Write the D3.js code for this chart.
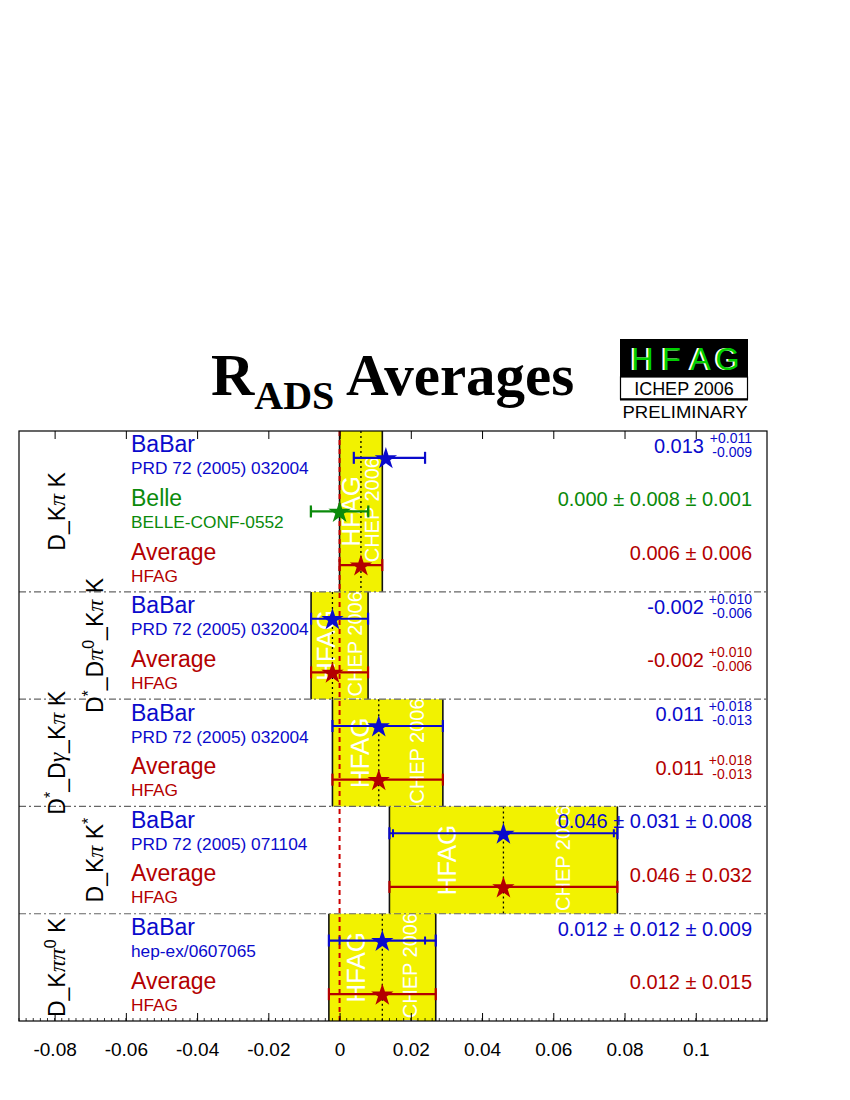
<!DOCTYPE html>
<html><head><meta charset="utf-8">
<script src="https://cdn.jsdelivr.net/npm/d3@7"></script>
<style>body{margin:0;background:#fff} svg{display:block}</style>
</head><body>
<svg id="c" width="850" height="1100"></svg>
<script>
// ---------------- data ----------------
const groupLabels = [
  [["D_K",""],["π","g"],[" K",""]],
  [["D",""],["*","sup"],["_D",""],["π","g"],["0","sup"],["_K",""],["π","g"],[" K",""]],
  [["D",""],["*","sup"],["_D",""],["γ","g"],["_K",""],["π","g"],[" K",""]],
  [["D_K",""],["π","g"],[" K",""],["*","sup"]],
  [["D_K",""],["π","g"],["π","g"],["0","sup"],[" K",""]]
];
const entryGroup  = [0,0,0,1,1,2,2,3,3,4,4];
const experiments = ["BaBar","Belle","Average","BaBar","Average","BaBar","Average","BaBar","Average","BaBar","Average"];
const references  = ["PRD 72 (2005) 032004","BELLE-CONF-0552","HFAG","PRD 72 (2005) 032004","HFAG",
                     "PRD 72 (2005) 032004","HFAG","PRD 72 (2005) 071104","HFAG","hep-ex/0607065","HFAG"];
const values  = [0.013, 0.000, 0.006, -0.002, -0.002, 0.011, 0.011, 0.046, 0.046, 0.012, 0.012];
const errHi   = [0.011, 0.008, 0.006, 0.010, 0.010, 0.018, 0.018, 0.031, 0.032, 0.012, 0.015];
const errLo   = [0.009, 0.008, 0.006, 0.006, 0.006, 0.013, 0.013, 0.031, 0.032, 0.012, 0.015];
const errSyst = [0, 0.001, 0, 0, 0, 0, 0, 0.008, 0, 0.009, 0];
const xTicks      = [-0.08,-0.06,-0.04,-0.02,0,0.02,0.04,0.06,0.08,0.1];
const xTickLabels = ["-0.08","-0.06","-0.04","-0.02","0","0.02","0.04","0.06","0.08","0.1"];
const xDomain = [-0.09, 0.12];

// ---------------- setup ----------------
const svg = d3.select("#c");
const F = "Liberation Sans, Arial, Helvetica, sans-serif";
const colors = {BaBar:"#0a0acc", Belle:"#0a8a0a", Average:"#b30000"};
const L = 19, R = 767, T = 431, B = 1021;
const x = d3.scaleLinear().domain(xDomain).range([L, R]);
const y = d3.scaleBand().domain(d3.range(values.length)).range([T, B]).padding(0);
const rowH = y.bandwidth();
const nG = groupLabels.length;
const gRows = d3.range(nG).map(g => entryGroup.map((e,i)=>e===g?i:-1).filter(i=>i>=0));
const gTop = gRows.map(r => y(r[0]));
const gBot = gRows.map(r => y(r[r.length-1]) + rowH);
const fmt = v => d3.format(".3f")(v).replace("−","-");

// ---------------- title & logo ----------------
const title = svg.append("text").attr("font-family","Liberation Serif, Times New Roman, serif")
  .attr("font-weight","bold").attr("fill","#000");
title.append("tspan").attr("x",211).attr("y",395).attr("font-size",60).text("R");
title.append("tspan").attr("dy",14).attr("font-size",40).text("ADS");
title.append("tspan").attr("x",346).attr("y",395).attr("font-size",59).text("Averages");

const logo = svg.append("g");
logo.append("rect").attr("x",620).attr("y",339).attr("width",128).attr("height",38).attr("fill","#000");
const hl = ["H","F","A","G"], hx = [642,671,700,727];
hl.forEach((c,i)=>{
  logo.append("text").attr("x",hx[i]-1.5).attr("y",370).attr("text-anchor","middle")
    .attr("font-family",F).attr("font-size",31).attr("fill","#fff").text(c);
  logo.append("text").attr("x",hx[i]+0.5).attr("y",370).attr("text-anchor","middle")
    .attr("font-family",F).attr("font-size",31).attr("fill","#00d000").text(c);
});
logo.append("rect").attr("x",620.5).attr("y",377).attr("width",127).attr("height",22)
  .attr("fill","#fff").attr("stroke","#000").attr("stroke-width",1.2);
logo.append("line").attr("x1",620).attr("x2",748).attr("y1",399.5).attr("y2",399.5).attr("stroke","#000").attr("stroke-width",2);
logo.append("text").attr("x",684).attr("y",395).attr("text-anchor","middle").attr("font-family",F)
  .attr("font-size",18).text("ICHEP 2006");
logo.append("text").attr("x",685).attr("y",418).attr("text-anchor","middle").attr("font-family",F)
  .attr("font-size",16.5).attr("textLength",125).attr("lengthAdjust","spacingAndGlyphs").text("PRELIMINARY");

// ---------------- bands ----------------
const defs = svg.append("defs");
const avgRows = gRows.map(r => r.find(i => experiments[i] === "Average"));
const bandG = svg.append("g");
avgRows.forEach((i,g)=>{
  const x0 = x(values[i]-errLo[i]), x1 = x(values[i]+errHi[i]);
  const y0 = gTop[g], y1 = gBot[g], w = x1-x0, cy = (y0+y1)/2;
  defs.append("clipPath").attr("id","clip"+g).append("rect")
    .attr("x",x0).attr("y",y0).attr("width",w).attr("height",y1-y0);
  bandG.append("rect").attr("x",x0).attr("y",y0).attr("width",w).attr("height",y1-y0).attr("fill","#f2f200");
  const tg = bandG.append("g").attr("clip-path",`url(#clip${g})`);
  tg.append("text").attr("transform",`translate(${x0+0.25*w},${cy}) rotate(-90)`)
    .attr("text-anchor","middle").attr("dy","0.36em").attr("font-family",F).attr("font-size",26)
    .attr("fill","#fff").text("HFAG");
  tg.append("text").attr("transform",`translate(${x0+0.76*w},${cy+1}) rotate(-90)`)
    .attr("text-anchor","middle").attr("dy","0.36em").attr("font-family",F).attr("font-size",20)
    .attr("fill","#fff").text("ICHEP 2006");
  [x0,x1].forEach(xx => bandG.append("line").attr("x1",xx).attr("x2",xx).attr("y1",y0).attr("y2",y1)
    .attr("stroke","#111").attr("stroke-width",1.6));
  bandG.append("line").attr("x1",x(values[i])).attr("x2",x(values[i])).attr("y1",y0).attr("y2",y1)
    .attr("stroke","#000").attr("stroke-width",1.3).attr("stroke-dasharray","2,3");
});

// zero line
svg.append("line").attr("x1",x(0)).attr("x2",x(0)).attr("y1",T).attr("y2",B)
  .attr("stroke","#cc0000").attr("stroke-width",2).attr("stroke-dasharray","5,4");

// separators
gTop.slice(1).forEach(yy => svg.append("line").attr("x1",L).attr("x2",R).attr("y1",yy).attr("y2",yy)
  .attr("stroke","#666").attr("stroke-width",1.2).attr("stroke-dasharray","7,3,2,3"));

// frame
svg.append("rect").attr("x",L).attr("y",T).attr("width",R-L).attr("height",B-T)
  .attr("fill","none").attr("stroke","#000").attr("stroke-width",1.2);

// axes
const axB = svg.append("g").attr("transform",`translate(0,${B})`)
  .call(d3.axisBottom(x).tickValues(xTicks).tickSizeInner(-8).tickSizeOuter(0).tickPadding(22)
    .tickFormat((d,i)=>xTickLabels[i]));
axB.select(".domain").remove();
axB.selectAll("text").attr("font-family",F).attr("font-size",19).attr("fill","#000");
axB.selectAll("line").attr("stroke","#000").attr("stroke-width",1);
const axT = svg.append("g").attr("transform",`translate(0,${T})`)
  .call(d3.axisTop(x).tickValues(xTicks).tickSizeInner(-8).tickSizeOuter(0).tickFormat(""));
axT.select(".domain").remove();
axT.selectAll("line").attr("stroke","#000");
const minor = d3.range(-0.09, 0.1201, 0.002);
svg.append("g").selectAll("line").data(minor).join("line")
  .attr("x1",d=>x(d)).attr("x2",d=>x(d)).attr("y1",B).attr("y2",B-3).attr("stroke","#000").attr("stroke-width",0.8);

// group labels
groupLabels.forEach((segs,g)=>{
  const cx = g%2 ? 95 : 57, cy = (gTop[g]+gBot[g])/2;
  const t = svg.append("text").attr("transform",`translate(${cx},${cy}) rotate(-90)`)
    .attr("text-anchor","middle").attr("dy","0.36em").attr("font-family",F).attr("font-size",23).attr("fill","#000");
  let shifted = false;
  segs.forEach(([s,type])=>{
    const ts = t.append("tspan").text(s);
    if (type === "sup") { ts.attr("font-size",16).attr("dy",-9); shifted = true; }
    else if (shifted) { ts.attr("dy",9); shifted = false; }
    if (type === "g") ts.attr("font-family","Liberation Serif, serif").attr("font-style","italic").attr("font-size",24);
  });
});

// entries
const ent = svg.append("g");
values.forEach((v,i)=>{
  const c = colors[experiments[i]], cy = y(i) + rowH/2;
  const st = errSyst[i];
  const lo = v - Math.hypot(errLo[i], st), hi = v + Math.hypot(errHi[i], st);
  ent.append("line").attr("x1",x(lo)).attr("x2",x(hi)).attr("y1",cy).attr("y2",cy).attr("stroke",c).attr("stroke-width",2.2);
  [lo,hi].forEach(e => ent.append("line").attr("x1",x(e)).attr("x2",x(e)).attr("y1",cy-6).attr("y2",cy+6)
    .attr("stroke",c).attr("stroke-width",2.2));
  if (st) [v-errLo[i], v+errHi[i]].forEach(e => ent.append("line").attr("x1",x(e)).attr("x2",x(e))
    .attr("y1",cy-4).attr("y2",cy+4).attr("stroke",c).attr("stroke-width",2));
  ent.append("path").attr("d", d3.symbol(d3.symbolStar, 155)()).attr("transform",`translate(${x(v)},${cy+1})`).attr("fill",c);

  ent.append("text").attr("x",131).attr("y",cy-5.5).attr("font-family",F).attr("font-size",23).attr("fill",c).text(experiments[i]);
  ent.append("text").attr("x",131).attr("y",cy+16.5).attr("font-family",F).attr("font-size",17.3).attr("fill",c).text(references[i]);

  if (errHi[i] !== errLo[i]) {
    ent.append("text").attr("x",752).attr("y",cy-15).attr("text-anchor","end").attr("font-family",F)
      .attr("font-size",14).attr("fill",c).text("+"+fmt(errHi[i]));
    ent.append("text").attr("x",752).attr("y",cy-1).attr("text-anchor","end").attr("font-family",F)
      .attr("font-size",14).attr("fill",c).text("-"+fmt(errLo[i]));
    ent.append("text").attr("x",704).attr("y",cy-5).attr("text-anchor","end").attr("font-family",F)
      .attr("font-size",20).attr("fill",c).text(fmt(v));
  } else {
    let s = fmt(v) + " ± " + fmt(errHi[i]);
    if (st) s += " ± " + fmt(st);
    ent.append("text").attr("x",752).attr("y",cy-5).attr("text-anchor","end").attr("font-family",F)
      .attr("font-size",20).attr("fill",c).text(s);
  }
});
</script>
</body></html>
